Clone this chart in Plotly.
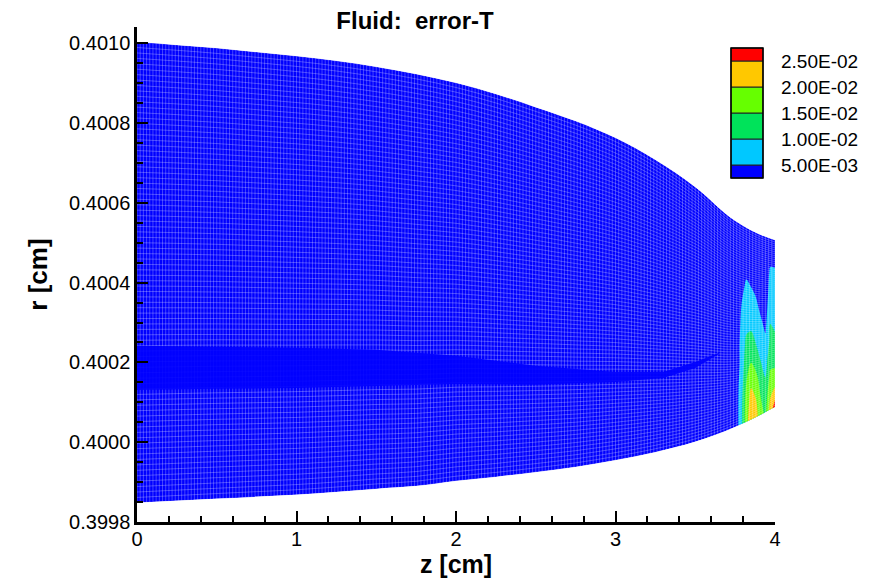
import numpy as np
import plotly.graph_objects as go

# ---- channel outline: axial stations (cm) and wall radii (cm) ----
Z_STATIONS = [0.0, 0.25, 0.5, 0.75, 1.0, 1.25, 1.5, 1.75, 2.0, 2.25, 2.5,
              2.75, 3.0, 3.25, 3.5, 3.75, 4.0]
R_OUTER = [0.401003, 0.400996, 0.400988, 0.400978, 0.400968, 0.400956,
           0.400941, 0.400923, 0.400901, 0.400873, 0.400840, 0.400805,
           0.400763, 0.400708, 0.400640, 0.400555, 0.400507]
R_INNER = [0.399848, 0.399853, 0.399858, 0.399863, 0.399868, 0.399875,
           0.399883, 0.399890, 0.399903, 0.399913, 0.399925, 0.399938,
           0.399955, 0.399975, 0.400001, 0.400038, 0.400088]

# normalised radial coordinate across the gap (0 = inner wall, 1 = outer wall)
S_STATIONS = [0.0, 0.25, 0.5, 0.75, 1.0]

# ---- refined mesh layer in the middle of the gap ----
LAYER_Z = [0.0, 0.5, 1.0, 1.5, 2.0, 2.5, 3.0, 3.3, 3.5, 3.65]
LAYER_TOP = [0.400242, 0.400239, 0.400237, 0.400232, 0.400217, 0.400192,
             0.400176, 0.400176, 0.400201, 0.400224]
LAYER_BOT = [0.400131, 0.400134, 0.400136, 0.400141, 0.400146, 0.400144,
             0.400151, 0.400161, 0.400186, 0.400222]

# ---- temperature error field (x 1e-3) on (z, s) ----
ERR_Z = [0.0, 3.70, 3.76, 3.79, 3.82, 3.85, 3.88, 3.91, 3.94, 3.97, 4.0]
ERR_S = [0.0, 0.1, 0.2, 0.3, 0.4, 0.5, 0.6, 0.7, 0.8, 0.9, 1.0]
ERR_MILLI = [
    [1, 1, 3, 9, 18, 24, 22, 17, 14, 22, 28],
    [1, 1, 3, 9, 17, 22, 20, 15, 12, 19, 21],
    [1, 1, 3, 8, 15, 19, 17, 13, 10, 16, 16],
    [1, 1, 2, 7, 13, 15, 13, 10, 8, 13, 13],
    [1, 1, 2, 7, 11, 12, 10, 8, 6, 11, 11],
    [1, 1, 2, 6, 9, 9, 8, 6, 4, 10, 9],
    [1, 1, 1, 5, 8, 7, 6, 4, 3, 8, 8],
    [1, 1, 1, 3, 6, 5, 4, 2, 2, 7, 7],
    [1, 1, 1, 2, 3, 2, 2, 1, 1, 6, 6],
    [1, 1, 1, 1, 1, 1, 1, 1, 1, 3, 3],
    [1, 1, 1, 1, 1, 1, 1, 1, 1, 1, 1],
]

LEVELS = [0.005, 0.010, 0.015, 0.020, 0.025]
LEVEL_TEXT = ["5.00E-03", "1.00E-02", "1.50E-02", "2.00E-02", "2.50E-02"]
BAND_COLORS = ["#0000ff", "#00c8ff", "#00e35a", "#66ff00", "#ffc800", "#ff0000"]
LEVEL_STEP = 0.005

FONT = "Liberation Sans, Arial, Helvetica, sans-serif"

# figure / plot-area geometry in pixels
W, H = 869, 579
ML, MR, MT, MB = 137, 94, 27, 57
PW, PH = W - ML - MR, H - MT - MB

# carpet node coordinates
zs = np.array(Z_STATIONS)
ro = np.array(R_OUTER)
ri = np.array(R_INNER)
ss = np.array(S_STATIONS)
X = np.tile(zs, (len(ss), 1))
Y = ri[None, :] + ss[:, None] * (ro - ri)[None, :]

# colorscale for the contour fill (one colour per band centre)
fill_scale = [[i / 5, c] for i, c in enumerate(BAND_COLORS)]

mesh_line = "rgba(255,255,255,0.33)"

fig = go.Figure()

fig.add_trace(go.Contourcarpet(
    carpet="mesh",
    a=ERR_Z,
    b=ERR_S,
    z=(np.array(ERR_MILLI) * 1e-3).tolist(),
    autocontour=False,
    contours=dict(start=LEVELS[0], end=LEVELS[-1], size=LEVEL_STEP,
                  coloring="fill", showlines=False),
    line=dict(width=0),
    colorscale=fill_scale,
    showscale=False,
))

fig.add_trace(go.Carpet(
    carpet="mesh",
    a=Z_STATIONS,
    b=S_STATIONS,
    x=X.tolist(),
    y=Y.tolist(),
    aaxis=dict(tickmode="linear", tick0=0, dtick=0.02, smoothing=1,
               showticklabels="none", showgrid=True, gridcolor=mesh_line,
               gridwidth=0.8, minorgridcount=0, startline=False,
               endline=False, showline=False),
    baxis=dict(tickmode="linear", tick0=0, dtick=1 / 85, smoothing=1,
               showticklabels="none", showgrid=True, gridcolor=mesh_line,
               gridwidth=0.8, minorgridcount=0, startline=False,
               endline=False, showline=False),
))

# refined layer drawn as a denser, darker strip
fig.add_trace(go.Scatter(
    x=LAYER_Z + LAYER_Z[::-1],
    y=LAYER_TOP + LAYER_BOT[::-1],
    fill="toself", fillcolor="rgba(0,0,255,0.9)",
    mode="lines", line=dict(width=0),
    hoverinfo="skip", showlegend=False,
))

# ---- contour-level legend: stacked colour boxes with labels at the levels ----
LEG_X0, LEG_X1 = 731, 763          # bar edges (px)
LEG_TOP, LEG_BOT = 48, 178         # bar extent (px)
lo = LEVELS[0] - LEVEL_STEP / 2
hi = LEVELS[-1] + LEVEL_STEP / 2


def px_x(px):
    return (px - ML) / PW


def px_y(py):
    return (H - MB - py) / PH


def level_y(v):
    return LEG_BOT - (v - lo) / (hi - lo) * (LEG_BOT - LEG_TOP)


edges = [lo] + LEVELS + [hi]
shapes = []
for i, c in enumerate(BAND_COLORS):
    shapes.append(dict(
        type="rect", xref="paper", yref="paper", layer="above",
        x0=px_x(LEG_X0), x1=px_x(LEG_X1),
        y0=px_y(level_y(edges[i])), y1=px_y(level_y(edges[i + 1])),
        fillcolor=c, line=dict(color="#222222", width=1),
    ))
shapes.append(dict(
    type="rect", xref="paper", yref="paper", layer="above",
    x0=px_x(LEG_X0), x1=px_x(LEG_X1),
    y0=px_y(LEG_BOT), y1=px_y(LEG_TOP),
    fillcolor="rgba(0,0,0,0)", line=dict(color="black", width=1.5),
))

annotations = [
    dict(text=t, xref="paper", yref="paper",
         x=px_x(LEG_X1 + 16), y=px_y(level_y(v)),
         xanchor="left", yanchor="middle", showarrow=False,
         font=dict(family=FONT, size=19, color="black"))
    for v, t in zip(LEVELS, LEVEL_TEXT)
]

axis_common = dict(
    showline=True, linecolor="black", linewidth=2.5, mirror=False,
    ticks="inside", ticklen=11, tickwidth=2, tickcolor="black",
    showgrid=False, zeroline=False,
    tickfont=dict(family=FONT, size=20, color="black"),
)

fig.update_layout(
    width=W, height=H,
    margin=dict(l=ML, r=MR, t=MT, b=MB, autoexpand=False),
    paper_bgcolor="white", plot_bgcolor="white",
    showlegend=False,
    shapes=shapes,
    annotations=annotations,
    title=dict(text="<b>Fluid:\u00a0 error-T</b>",
               x=415 / W, xanchor="center", xref="container",
               y=1 - 21 / H, yanchor="middle", yref="container",
               font=dict(family=FONT, size=24, color="black")),
    xaxis=dict(range=[0, 4], dtick=1, tick0=0, ticklabelstandoff=-3,
               minor=dict(ticks="inside", ticklen=6, tickwidth=1.5,
                          tickcolor="black", dtick=0.2),
               title=dict(text="<b>z [cm]</b>", standoff=6,
                          font=dict(family=FONT, size=25, color="black")),
               **axis_common),
    yaxis=dict(range=[0.3998, 0.4010409], dtick=0.0002, tick0=0.3998,
               tickformat=".4f",
               minor=dict(ticks="inside", ticklen=6, tickwidth=1.5,
                          tickcolor="black", dtick=0.00005),
               title=dict(text="<b>r [cm]</b>", standoff=14,
                          font=dict(family=FONT, size=26, color="black")),
               **axis_common),
)

fig.write_html("out.html")
